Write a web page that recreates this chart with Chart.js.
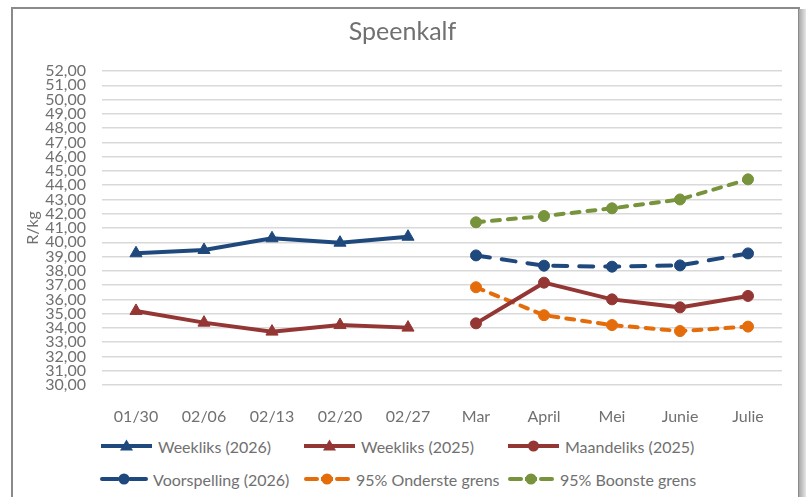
<!DOCTYPE html>
<html><head><meta charset="utf-8">
<script src="https://cdn.jsdelivr.net/npm/chart.js@4.4.1/dist/chart.umd.min.js"></script>
<style>
html,body{margin:0;padding:0;background:#fff;}
#wrap{position:relative;width:806px;height:497px;overflow:hidden;background:#fff;font-family:Lato,sans-serif;}
#frame{position:absolute;left:11px;top:7px;width:785px;height:500px;border:2px solid #8a8a8a;border-bottom:none;}
#shadow{position:absolute;left:799px;top:9px;width:7px;height:500px;background:linear-gradient(to right,#a8a8a8,#e6e6e6);}
#c{position:absolute;left:0;top:0;}
.lg{position:absolute;display:flex;align-items:center;font-size:16px;color:#707070;white-space:nowrap;height:20px;}
.lg svg{margin-right:5px;}
</style></head>
<body><div id="wrap"><div id="frame"></div><div id="shadow"></div><canvas id="c" width="806" height="430"></canvas><div id="legend"></div></div>
<script>
const categories = ['01/30','02/06','02/13','02/20','02/27','Mar','April','Mei','Junie','Julie'];
const weekly2026   = [39.23, 39.46, 40.28, 39.97, 40.39, null, null, null, null, null];
const weekly2025   = [35.19, 34.37, 33.74, 34.20, 34.02, null, null, null, null, null];
const monthly2025  = [null, null, null, null, null, 34.32, 37.17, 36.00, 35.44, 36.24];
const forecast2026 = [null, null, null, null, null, 39.08, 38.36, 38.29, 38.38, 39.22];
const lower95      = [null, null, null, null, null, 36.85, 34.89, 34.20, 33.78, 34.09];
const upper95      = [null, null, null, null, null, 41.40, 41.84, 42.38, 43.00, 44.41];
const yMin = 30, yMax = 52, yStep = 1;
const seriesNames = ['Weekliks (2026)','Weekliks (2025)','Maandeliks (2025)','Voorspelling (2026)','95% Onderste grens','95% Boonste grens'];

const BLUE='#1F497D', RED='#943634', GREEN='#77933C', ORANGE='#E46C0A', TXT='#707070';
const FONT='Lato, sans-serif';

function ds(label,data,color,style,dash){
  return {label,data,borderColor:color,backgroundColor:color,pointBackgroundColor:color,pointBorderColor:color,
    borderWidth:4,borderDash:dash||[],borderCapStyle:dash?'round':'butt',tension:0,spanGaps:false,
    pointStyle:style,pointRadius:style==='triangle'?7:5.5,pointBorderWidth:1,pointHoverRadius:5};
}
const datasets=[
  ds(seriesNames[0],weekly2026,BLUE,'triangle'),
  ds(seriesNames[1],weekly2025,RED,'triangle'),
  ds(seriesNames[2],monthly2025,RED,'circle'),
  ds(seriesNames[3],forecast2026,BLUE,'circle',[14,12]),
  ds(seriesNames[4],lower95,ORANGE,'circle',[8,8]),
  ds(seriesNames[5],upper95,GREEN,'circle',[8,8]),
];

new Chart(document.getElementById('c'),{
  type:'line',
  data:{labels:categories,datasets},
  options:{
    responsive:false,animation:false,
    layout:{padding:{left:23,right:24,top:0,bottom:0}},
    plugins:{
      legend:{display:false},tooltip:{enabled:false},
      title:{display:true,text:'Speenkalf',color:TXT,font:{family:FONT,size:25,weight:'normal'},padding:{top:17,bottom:24}}
    },
    scales:{
      x:{offset:true,grid:{display:false},border:{display:false},
        ticks:{color:TXT,font:{family:FONT,size:16},padding:14,maxRotation:0,autoSkip:false},
        afterFit(s){s.height=45;}},
      y:{min:yMin,max:yMax,
        ticks:{stepSize:yStep,autoSkip:false,color:TXT,font:{family:FONT,size:16},padding:16,
          callback:v=>v.toFixed(2).replace('.',',')},
        grid:{color:'#d9d9d9',lineWidth:1.5,drawTicks:false},border:{display:false},
        title:{display:true,text:'R/kg',color:TXT,font:{family:FONT,size:16},padding:0},
        afterFit(s){s.width=79;}}
    }
  }
});

// legend (HTML)
const legendItems=[
  {i:0,x:100,y:446,w:53,dash:null,mk:'tri',c:BLUE},
  {i:1,x:303,y:446,w:53,dash:null,mk:'tri',c:RED},
  {i:2,x:507,y:446,w:53,dash:null,mk:'circ',c:RED},
  {i:3,x:100,y:479,w:48,dash:'long',mk:'circ',c:BLUE},
  {i:4,x:303,y:479,w:48,dash:'short',mk:'circ',c:ORANGE},
  {i:5,x:507,y:479,w:48,dash:'short',mk:'circ',c:GREEN},
];
const lg=document.getElementById('legend');
legendItems.forEach(it=>{
  const w=it.w, m=w/2;
  let line;
  if(!it.dash){
    line=`<line x1="1" y1="10" x2="${w-1}" y2="10" stroke="${it.c}" stroke-width="4"/>`;
  } else if(it.dash==='long'){
    line=`<line x1="2" y1="10" x2="${m-6}" y2="10" stroke="${it.c}" stroke-width="4" stroke-linecap="round"/><line x1="${m+6}" y1="10" x2="${w-2}" y2="10" stroke="${it.c}" stroke-width="4" stroke-linecap="round"/>`;
  } else {
    line=`<line x1="3" y1="10" x2="${m-10}" y2="10" stroke="${it.c}" stroke-width="4" stroke-linecap="round"/><line x1="${m+10}" y1="10" x2="${w-3}" y2="10" stroke="${it.c}" stroke-width="4" stroke-linecap="round"/><line x1="${m-6}" y1="10" x2="${m+6}" y2="10" stroke="${it.c}" stroke-width="4"/>`;
  }
  const mk = it.mk==='tri'
    ? `<polygon points="${m},3.5 ${m+6.5},14.5 ${m-6.5},14.5" fill="${it.c}"/>`
    : `<circle cx="${m}" cy="10" r="5.5" fill="${it.c}"/>`;
  const d=document.createElement('div');
  d.className='lg';
  d.style.left=it.x+'px'; d.style.top=(it.y-10)+'px';
  d.innerHTML=`<svg width="${w}" height="20">${line}${mk}</svg><span>${seriesNames[it.i]}</span>`;
  lg.appendChild(d);
});
</script>
</body></html>
